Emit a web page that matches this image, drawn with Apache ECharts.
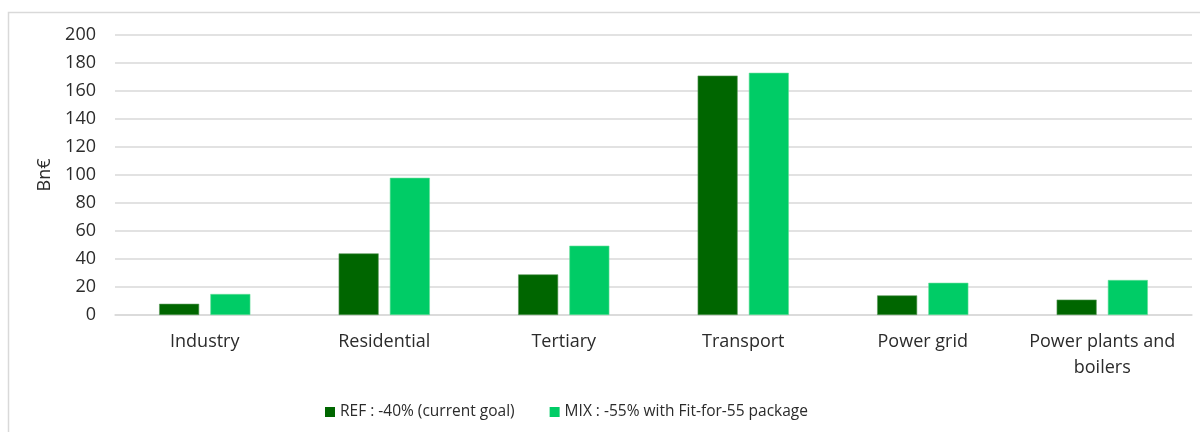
<!DOCTYPE html>
<html>
<head>
<meta charset="utf-8">
<script src="https://cdn.jsdelivr.net/npm/echarts@6/dist/echarts.min.js"></script>
<style>html,body{margin:0;padding:0;background:#fff}#c{width:1200px;height:432px}</style>
</head>
<body>
<div id="c"></div>
<script>
const categories = ['Industry', 'Residential', 'Tertiary', 'Transport', 'Power grid', 'Power plants and\nboilers'];
const refName = 'REF : -40% (current goal)';
const mixName = 'MIX : -55% with Fit-for-55 package';
const refValues = [8, 44, 29, 171, 14, 11];
const mixValues = [15, 98, 49.5, 173, 23, 25];
const yTicks = [0, 20, 40, 60, 80, 100, 120, 140, 160, 180, 200];

const font = '"Open Sans", "Noto Sans", sans-serif';
const txt = '#2b2b2b';
const chart = echarts.init(document.getElementById('c'), null, {renderer: 'canvas'});
chart.setOption({
  animation: false,
  backgroundColor: '#fff',
  graphic: [{
    type: 'rect', silent: true, z: -1,
    shape: {x: 8.5, y: 12.5, width: 1220, height: 440},
    style: {fill: 'none', stroke: '#d9d9d9', lineWidth: 1.5}
  }],
  grid: {left: 115, right: 8, top: 35, bottom: 117},
  legend: {
    left: 320, top: 399,
    itemWidth: 10, itemHeight: 10, itemGap: 35,
    icon: 'rect',
    itemStyle: {borderWidth: 0},
    textStyle: {fontFamily: font, fontSize: 15.5, color: txt},
    data: [refName, mixName]
  },
  xAxis: {
    type: 'category',
    data: categories,
    axisLine: {lineStyle: {color: '#d9d9d9', width: 1.5}},
    axisTick: {show: false},
    axisLabel: {fontFamily: font, fontSize: 18, color: txt, margin: 14, lineHeight: 26, interval: 0}
  },
  yAxis: {
    type: 'value',
    min: yTicks[0], max: yTicks[yTicks.length - 1], interval: 20,
    name: 'Bn€',
    nameLocation: 'middle',
    nameGap: 57,
    nameRotate: 90,
    nameTextStyle: {fontFamily: font, fontSize: 18, color: txt},
    axisLine: {show: false},
    axisTick: {show: false},
    axisLabel: {fontFamily: font, fontSize: 18, color: txt, margin: 19},
    splitLine: {lineStyle: {color: '#d9d9d9', width: 1.5}}
  },
  series: [{
    name: refName, type: 'bar', data: refValues,
    barWidth: 40, barGap: '28%',
    itemStyle: {color: '#006600', borderColor: '#5a9a5a', borderWidth: 0.6}
  }, {
    name: mixName, type: 'bar', data: mixValues,
    barWidth: 40, barGap: '28%',
    itemStyle: {color: '#00cc66', borderColor: '#66dd99', borderWidth: 0.6}
  }]
});
</script>
</body>
</html>
